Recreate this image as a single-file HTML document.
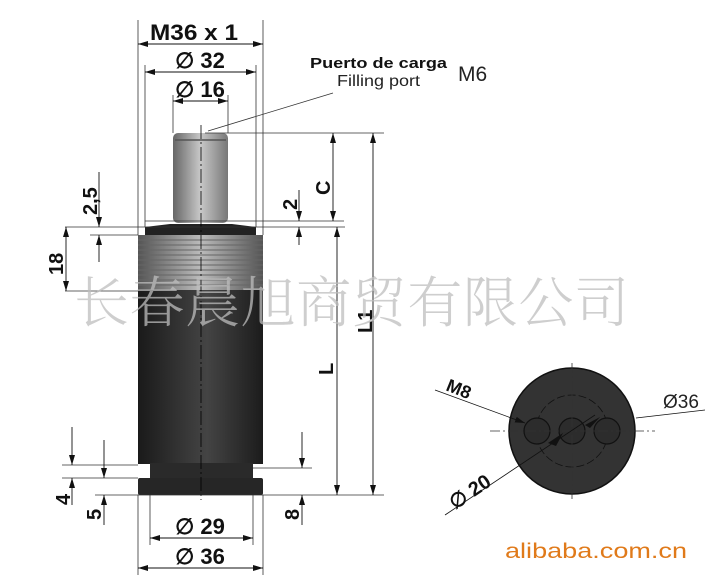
<!DOCTYPE html>
<html><head><meta charset="utf-8"><style>
html,body{margin:0;padding:0;background:#fff;}
svg{display:block;}
.b{font-family:"Liberation Sans",sans-serif;font-weight:bold;fill:#111;}
</style></head><body>
<svg width="713" height="585" viewBox="0 0 713 585" xmlns="http://www.w3.org/2000/svg">
<defs>
<linearGradient id="body" x1="0" x2="1" y1="0" y2="0">
<stop offset="0" stop-color="#1a1a1a"/><stop offset="0.55" stop-color="#444"/><stop offset="1" stop-color="#1c1c1c"/>
</linearGradient>
<linearGradient id="rod" x1="0" x2="1">
<stop offset="0" stop-color="#666"/><stop offset="0.5" stop-color="#c8c8c8"/><stop offset="1" stop-color="#777"/>
</linearGradient>
<linearGradient id="thr" x1="0" x2="1">
<stop offset="0" stop-color="#555"/><stop offset="0.5" stop-color="#bbb"/><stop offset="1" stop-color="#555"/>
</linearGradient>
<marker id="a" viewBox="0 0 10 6" refX="10" refY="3" markerWidth="10" markerHeight="6" orient="auto-start-reverse" markerUnits="userSpaceOnUse"><path d="M0,0L10,3L0,6z" fill="#111"/></marker>
</defs>
<rect x="173" y="133" width="55" height="90" rx="5" fill="url(#rod)"/>
<line x1="175" y1="140" x2="226" y2="140" stroke="#555" stroke-width="1.5"/>
<path d="M145,235 L145,227 L170,224 L232,224 L256,227 L256,235z" fill="#222"/>
<rect x="138" y="235" width="125" height="57" fill="url(#thr)"/>
<g stroke="#666" stroke-width="1">
<line x1="138" y1="240" x2="263" y2="240"/><line x1="138" y1="245" x2="263" y2="245"/><line x1="138" y1="250" x2="263" y2="250"/><line x1="138" y1="255" x2="263" y2="255"/><line x1="138" y1="260" x2="263" y2="260"/><line x1="138" y1="265" x2="263" y2="265"/><line x1="138" y1="270" x2="263" y2="270"/><line x1="138" y1="275" x2="263" y2="275"/><line x1="138" y1="280" x2="263" y2="280"/><line x1="138" y1="285" x2="263" y2="285"/>
</g>
<rect x="138" y="290" width="125" height="174" fill="url(#body)"/>
<rect x="150" y="463" width="103" height="16" fill="#2a2a2a"/>
<rect x="138" y="478" width="125" height="17" rx="2" fill="#262626"/>
<line x1="201" y1="125" x2="201" y2="500" stroke="#000" stroke-width="0.8" stroke-dasharray="14,3,2,3"/>
<g stroke="#333" stroke-width="0.8" fill="none">
<line x1="138" y1="20" x2="138" y2="235"/><line x1="263" y1="20" x2="263" y2="235"/>
<line x1="145" y1="65" x2="145" y2="227"/><line x1="256" y1="65" x2="256" y2="227"/>
<line x1="173" y1="95" x2="173" y2="133"/><line x1="228" y1="95" x2="228" y2="133"/>
<line x1="205" y1="133" x2="384" y2="133"/>
<line x1="145" y1="221" x2="344" y2="221"/>
<line x1="65" y1="227" x2="345" y2="227"/>
<line x1="90" y1="235" x2="138" y2="235"/>
<line x1="65" y1="291" x2="138" y2="291"/>
<line x1="62" y1="465" x2="138" y2="465"/>
<line x1="62" y1="478" x2="138" y2="478"/>
<line x1="95" y1="495" x2="384" y2="495"/>
<line x1="253" y1="468" x2="312" y2="468"/>
<line x1="150" y1="495" x2="150" y2="545"/><line x1="253" y1="495" x2="253" y2="545"/>
<line x1="138" y1="495" x2="138" y2="575"/><line x1="263" y1="495" x2="263" y2="575"/>
<line x1="208" y1="131" x2="333" y2="93"/>
</g>
<g stroke="#111" stroke-width="0.9">
<line x1="138" y1="44" x2="263" y2="44" marker-start="url(#a)" marker-end="url(#a)"/>
<line x1="145" y1="72" x2="256" y2="72" marker-start="url(#a)" marker-end="url(#a)"/>
<line x1="173" y1="101" x2="228" y2="101" marker-start="url(#a)" marker-end="url(#a)"/>
<line x1="333" y1="133" x2="333" y2="221" marker-start="url(#a)" marker-end="url(#a)"/>
<line x1="299" y1="190" x2="299" y2="221" marker-end="url(#a)"/>
<line x1="299" y1="245" x2="299" y2="227" marker-end="url(#a)"/>
<line x1="337" y1="227" x2="337" y2="495" marker-start="url(#a)" marker-end="url(#a)"/>
<line x1="373" y1="133" x2="373" y2="495" marker-start="url(#a)" marker-end="url(#a)"/>
<line x1="99" y1="172" x2="99" y2="227" marker-end="url(#a)"/>
<line x1="99" y1="262" x2="99" y2="235" marker-end="url(#a)"/>
<line x1="66" y1="227" x2="66" y2="291" marker-start="url(#a)" marker-end="url(#a)"/>
<line x1="72" y1="427" x2="72" y2="465" marker-end="url(#a)"/>
<line x1="72" y1="505" x2="72" y2="478" marker-end="url(#a)"/>
<line x1="104" y1="440" x2="104" y2="478" marker-end="url(#a)"/>
<line x1="104" y1="525" x2="104" y2="495" marker-end="url(#a)"/>
<line x1="302" y1="432" x2="302" y2="468" marker-end="url(#a)"/>
<line x1="302" y1="525" x2="302" y2="495" marker-end="url(#a)"/>
<line x1="150" y1="538" x2="253" y2="538" marker-start="url(#a)" marker-end="url(#a)"/>
<line x1="138" y1="568" x2="263" y2="568" marker-start="url(#a)" marker-end="url(#a)"/>
</g>
<text class="b" x="150" y="40" font-size="22" textLength="88" lengthAdjust="spacingAndGlyphs">M36 x 1</text>
<text class="b" x="200" y="68" font-size="22" text-anchor="middle">∅ 32</text>
<text class="b" x="200" y="97" font-size="22" text-anchor="middle">∅ 16</text>
<text class="b" x="200" y="534" font-size="22" text-anchor="middle">∅ 29</text>
<text class="b" x="200" y="564" font-size="22" text-anchor="middle">∅ 36</text>
<text class="b" x="310" y="68" font-size="15" textLength="137" lengthAdjust="spacingAndGlyphs">Puerto de carga</text>
<text x="337" y="86" font-size="16" font-family="Liberation Sans,sans-serif" fill="#222" textLength="83" lengthAdjust="spacingAndGlyphs">Filling port</text>
<text x="458" y="81" font-size="21" font-family="Liberation Sans,sans-serif" fill="#222">M6</text>
<text class="b" font-size="20" transform="translate(97,215) rotate(-90)">2,5</text>
<text class="b" font-size="20" transform="translate(63,275) rotate(-90)">18</text>
<text class="b" font-size="20" transform="translate(297,210) rotate(-90)">2</text>
<text class="b" font-size="20" transform="translate(330,195) rotate(-90)">C</text>
<text class="b" font-size="20" transform="translate(333,375) rotate(-90)">L</text>
<text class="b" font-size="20" transform="translate(372,333) rotate(-90)">L1</text>
<text class="b" font-size="20" transform="translate(70,505) rotate(-90)">4</text>
<text class="b" font-size="20" transform="translate(101,520) rotate(-90)">5</text>
<text class="b" font-size="20" transform="translate(299,520) rotate(-90)">8</text>
<circle cx="572" cy="431" r="63" fill="#333" stroke="#111" stroke-width="1.5"/>
<circle cx="572" cy="431" r="36" fill="none" stroke="#111" stroke-width="0.8" stroke-dasharray="8,3"/>
<circle cx="537" cy="431" r="13" fill="#2c2c2c" stroke="#111" stroke-width="1.2"/>
<circle cx="572" cy="431" r="13" fill="#2c2c2c" stroke="#111" stroke-width="1.2"/>
<circle cx="607" cy="431" r="13" fill="#2c2c2c" stroke="#111" stroke-width="1.2"/>
<g stroke="#333" stroke-width="0.8">
<line x1="490" y1="431" x2="655" y2="431" stroke-dasharray="10,3,2,3"/>
<line x1="572" y1="363" x2="572" y2="500" stroke-dasharray="10,3,2,3"/>
<line x1="435" y1="390" x2="525" y2="423" stroke="#111" marker-end="url(#a)"/>
<line x1="445" y1="515" x2="595" y2="415" stroke="#111"/>
<line x1="636" y1="418" x2="705" y2="410" stroke="#111"/>
</g>
<path d="M548,443 L563,433 L556,446z M600,417 L585,425 L590,428z" fill="#111"/>
<text class="b" font-size="18" transform="translate(445,390) rotate(22)">M8</text>
<text x="663" y="408" font-size="19" font-family="Liberation Sans,sans-serif" fill="#222">Ø36</text>
<text class="b" font-size="20" transform="translate(455,510) rotate(-34)">∅ 20</text>
<text x="505" y="558" font-size="21" font-family="Liberation Sans,sans-serif" fill="#e07a1a" textLength="182" lengthAdjust="spacingAndGlyphs">alibaba.com.cn</text>
<text x="74" y="322" font-size="55" font-family="Noto Serif CJK SC,serif" font-weight="300" fill="#bdbdbd" fill-opacity="0.75" textLength="555">长春晨旭商贸有限公司</text>
</svg>
</body></html>
